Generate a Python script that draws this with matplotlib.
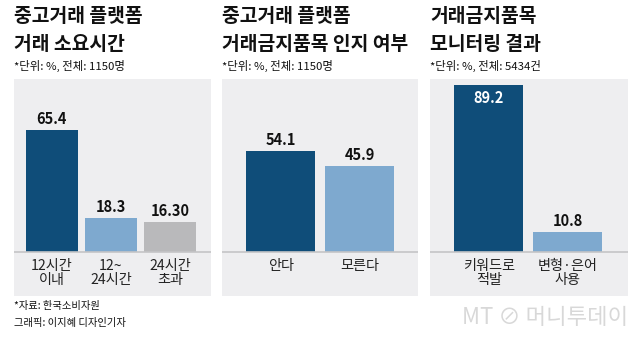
import numpy as np
import matplotlib
matplotlib.use('Agg')
import matplotlib.pyplot as plt

plt.rcParams['font.family'] = ['Noto Sans CJK KR', 'DejaVu Sans']

# data
titles = ['중고거래 플랫폼\n거래 소요시간',
          '중고거래 플랫폼\n거래금지품목 인지 여부',
          '거래금지품목\n모니터링 결과']
notes = ['*단위: %, 전체: 1150명', '*단위: %, 전체: 1150명', '*단위: %, 전체: 5434건']
cats_time = ['12시간\n이내', '12~\n24시간', '24시간\n초과']
vals_time = [65.4, 18.3, 16.30]
labels_time = ['65.4', '18.3', '16.30']
cats_aware = ['안다', '모른다']
vals_aware = [54.1, 45.9]
labels_aware = ['54.1', '45.9']
cats_monitor = ['키워드로\n적발', '변형·은어\n사용']
vals_monitor = [89.2, 10.8]
labels_monitor = ['89.2', '10.8']

DARK = '#0f4d79'
LIGHT = '#7ea9cf'
GREY = '#b9b9bb'
BG = '#eeeef0'

W, H = 640, 341
fig = plt.figure(figsize=(W / 100, H / 100), dpi=100)
fig.patch.set_facecolor('white')


def px_axes(x0, x1, y0, y1):
    """axes from pixel box (y measured from top)"""
    return fig.add_axes([x0 / W, 1 - y1 / H, (x1 - x0) / W, (y1 - y0) / H])


# panel boxes: (x0, x1, xlim, bar width)
panels = [
    (14, 211, (-0.64, 2.69), 0.87, cats_time, vals_time, labels_time, [DARK, LIGHT, GREY]),
    (222, 418, (-0.75, 1.745), 0.88, cats_aware, vals_aware, labels_aware, [DARK, LIGHT]),
    (430, 628, (-0.747, 1.77), 0.875, cats_monitor, vals_monitor, labels_monitor, [DARK, LIGHT]),
]

top_px, bot_px, base_px = 79, 296, 252
scale = 1.867  # px per percent
ylim = (-(bot_px - base_px) / scale, (base_px - top_px) / scale)

for i, (x0, x1, xl, bw, cats, vals, labs, cols) in enumerate(panels):
    ax = px_axes(x0, x1, top_px, bot_px)
    ax.set_facecolor(BG)
    for s in ax.spines.values():
        s.set_visible(False)
    ax.set_xticks([])
    ax.set_yticks([])
    ax.set_xlim(*xl)
    ax.set_ylim(*ylim)
    x = np.arange(len(vals))
    ax.bar(x, vals, width=bw, color=cols, zorder=2)
    ax.axhline(0, color='#c4c4c6', lw=1.2, zorder=3)
    for xi, v, lab in zip(x, vals, labs):
        if v > 80:
            ax.text(xi, v - 2.2, lab, ha='center', va='top', color='white',
                    fontsize=10.5, fontweight='bold')
        else:
            ax.text(xi, v + 1.6, lab, ha='center', va='bottom', color='#111111',
                    fontsize=10.5, fontweight='bold')
    for xi, c in zip(x, cats):
        ax.text(xi, -3.6, c, ha='center', va='top', color='#222222',
                fontsize=10.2, linespacing=1.0)

    # titles: two lines placed separately
    t1, t2 = titles[i].split('\n')
    fig.text(x0 / W, 1 - 17 / H, t1, ha='left', va='center', fontsize=13.9,
             fontweight='bold', color='#111111')
    fig.text(x0 / W, 1 - 44 / H, t2, ha='left', va='center', fontsize=13.9,
             fontweight='bold', color='#111111')
    fig.text(x0 / W, 1 - 66 / H, notes[i], ha='left', va='center', fontsize=8.2,
             color='#111111')

fig.text(14 / W, 1 - 306 / H, '*자료: 한국소비자원', ha='left', va='center',
         fontsize=7.4, color='#111111')
fig.text(14 / W, 1 - 323 / H, '그래픽: 이지혜 디자인기자', ha='left', va='center',
         fontsize=7.4, color='#111111')
fig.text(628 / W, 1 - 317 / H, 'MT ⊘ 머니투데이', ha='right', va='center',
         fontsize=16, color='#d8d8d8', family=['Noto Sans CJK KR', 'DejaVu Sans'])

fig.savefig('out.png', dpi=100, facecolor='white')
